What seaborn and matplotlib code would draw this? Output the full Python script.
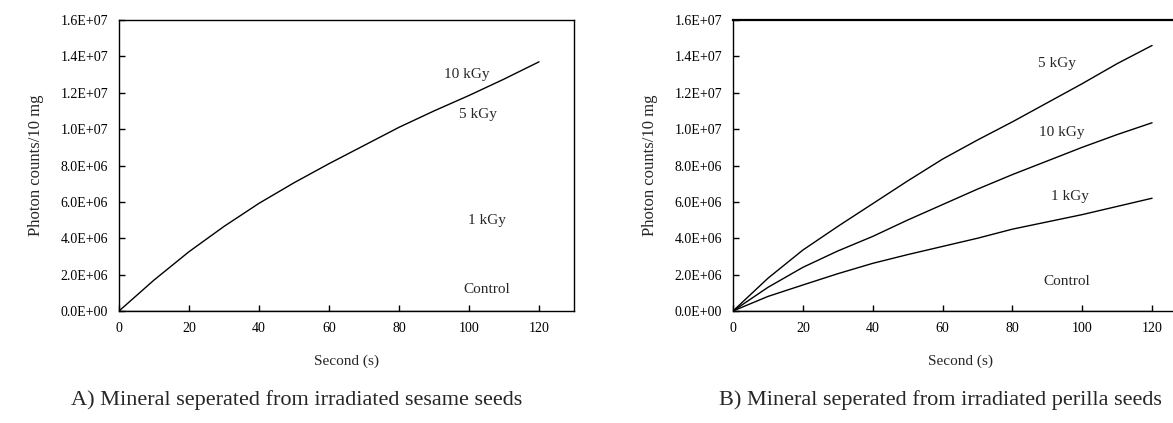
import pandas as pd
import seaborn as sns
import matplotlib.pyplot as plt
from matplotlib.ticker import FuncFormatter

# time axis (s)
seconds = [0, 10, 20, 30, 40, 50, 60, 70, 80, 90, 100, 110, 120]

# A) sesame seeds - only the 10 kGy trace survives in the figure
sesame_10kgy = [0, 1.70e6, 3.26e6, 4.65e6, 5.92e6, 7.05e6, 8.10e6, 9.10e6,
                10.10e6, 11.00e6, 11.85e6, 12.75e6, 13.70e6]
sesame_control = [0] * len(seconds)

# B) perilla seeds
perilla_5kgy = [0, 1.80e6, 3.35e6, 4.65e6, 5.90e6, 7.15e6, 8.35e6, 9.40e6,
                10.40e6, 11.45e6, 12.50e6, 13.60e6, 14.60e6]
perilla_10kgy = [0, 1.30e6, 2.40e6, 3.30e6, 4.10e6, 5.00e6, 5.85e6, 6.70e6,
                 7.50e6, 8.25e6, 9.00e6, 9.70e6, 10.35e6]
perilla_1kgy = [0, 0.80e6, 1.43e6, 2.05e6, 2.62e6, 3.10e6, 3.55e6, 4.00e6,
                4.50e6, 4.90e6, 5.30e6, 5.75e6, 6.20e6]
perilla_control = [0] * len(seconds)

# label text and where it sits (data coords)
labels_a = ["10 kGy", "5 kGy", "1 kGy", "Control"]
labels_a_x = [99.5, 102.5, 105, 105]
labels_a_y = [13.0e6, 10.8e6, 5.0e6, 1.2e6]
labels_b = ["5 kGy", "10 kGy", "1 kGy", "Control"]
labels_b_x = [92.7, 94.2, 96.4, 95.6]
labels_b_y = [13.6e6, 9.8e6, 6.3e6, 1.6e6]

yticks = [0, 2e6, 4e6, 6e6, 8e6, 10e6, 12e6, 14e6, 16e6]
xticks = [0, 20, 40, 60, 80, 100, 120]


def long_df(series):
    rows = []
    for name, vals in series.items():
        for t, v in zip(seconds, vals):
            rows.append({"Second": t, "Counts": v, "Dose": name})
    return pd.DataFrame(rows)


df_a = long_df({"10 kGy": sesame_10kgy, "Control": sesame_control})
df_b = long_df({"5 kGy": perilla_5kgy, "10 kGy": perilla_10kgy,
                "1 kGy": perilla_1kgy, "Control": perilla_control})

sns.set_style("ticks")
plt.rcParams["font.family"] = ["Liberation Serif", "DejaVu Serif"]

W, H = 1173, 423
fig = plt.figure(figsize=(W / 100, H / 100), dpi=100)
ax1 = fig.add_axes([119 / W, (H - 311) / H, (574 - 119) / W, 291 / H])
ax2 = fig.add_axes([733 / W, (H - 311) / H, 454 / W, 291 / H])

fmt = FuncFormatter(lambda v, p: f"{v:.1E}")

for ax, df, labs, lx, ly in [(ax1, df_a, labels_a, labels_a_x, labels_a_y),
                            (ax2, df_b, labels_b, labels_b_x, labels_b_y)]:
    names = df["Dose"].unique()
    sns.lineplot(data=df, x="Second", y="Counts", hue="Dose",
                 palette={n: "black" for n in names}, linewidth=1.0,
                 legend=False, ax=ax)
    ax.set_xlim(0, 130)
    ax.set_ylim(0, 1.6e7)
    ax.set_xticks(xticks)
    ax.set_yticks(yticks)
    ax.yaxis.set_major_formatter(fmt)
    ax.tick_params(direction="in", length=4, width=1, labelsize=10,
                   colors="black", pad=8)
    ax.set_xlabel("Second (s)", fontsize=11, labelpad=14)
    ax.set_ylabel("Photon counts/10 mg", fontsize=12, labelpad=12)
    for s in ax.spines.values():
        s.set_linewidth(1.0)
        s.set_color("black")
    for t, x, y in zip(labs, lx, ly):
        ax.text(x, y, t, ha="center", va="center", fontsize=11)

ax2.spines["right"].set_visible(False)
ax2.spines["top"].set_linewidth(1.6)

fig.text(297 / W, 1 - 400 / H, "A) Mineral seperated from irradiated sesame seeds",
         ha="center", va="center", fontsize=16)
fig.text(940 / W, 1 - 400 / H, "B) Mineral seperated from irradiated perilla seeds",
         ha="center", va="center", fontsize=16)

fig.savefig("out.png", dpi=100)
